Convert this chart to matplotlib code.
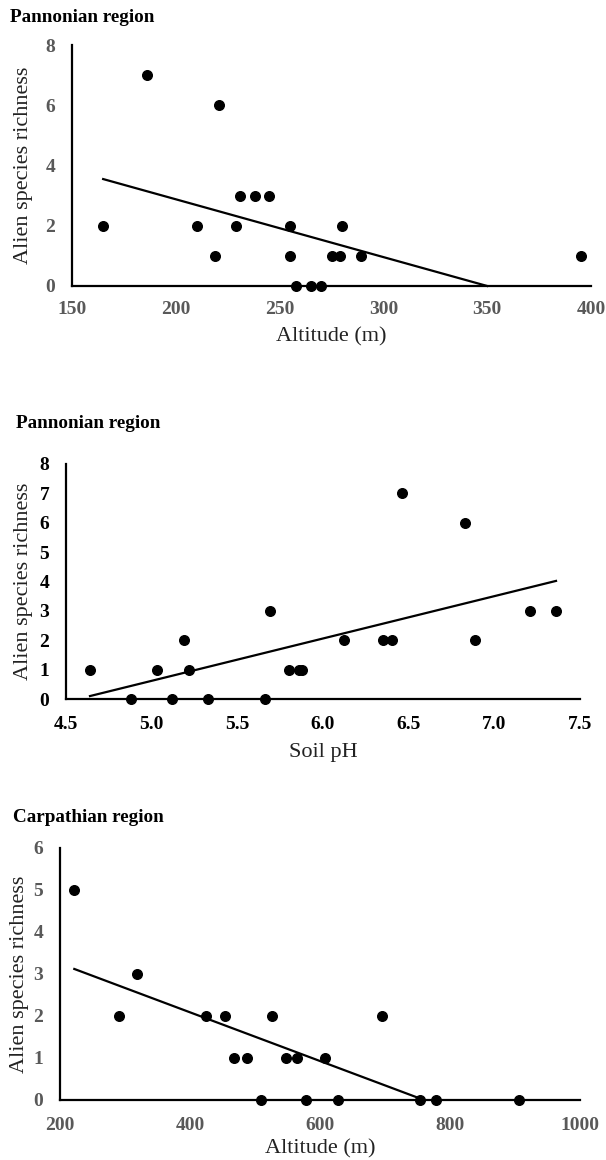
import matplotlib.pyplot as plt
import numpy as np

plt.rcParams['font.family'] = ['Liberation Serif', 'DejaVu Serif']

# panel 1: Pannonian region, altitude
alt_p = [165, 186, 210, 219, 221, 229, 231, 238, 245, 255, 255, 258, 265, 270,
         275, 279, 280, 289, 395]
rich_alt_p = [2, 7, 2, 1, 6, 2, 3, 3, 3, 2, 1, 0, 0, 0, 1, 1, 2, 1, 1]
trend_alt_p_x = [165, 350]
trend_alt_p_y = [3.55, 0]

# panel 2: Pannonian region, soil pH
ph_p = [4.64, 4.88, 5.03, 5.12, 5.19, 5.22, 5.33, 5.66, 5.69, 5.80, 5.86, 5.88,
        6.12, 6.35, 6.40, 6.46, 6.83, 6.89, 7.21, 7.36]
rich_ph_p = [1, 0, 1, 0, 2, 1, 0, 0, 3, 1, 1, 1, 2, 2, 2, 7, 6, 2, 3, 3]
trend_ph_x = [4.64, 7.36]
trend_ph_y = [0.1, 4.02]

# panel 3: Carpathian region, altitude
alt_c = [222, 290, 319, 424, 454, 468, 487, 509, 526, 547, 565, 579, 607, 627,
         695, 754, 778, 906]
rich_alt_c = [5, 2, 3, 2, 2, 1, 1, 0, 2, 1, 1, 0, 1, 0, 2, 0, 0, 0]
trend_alt_c_x = [222, 760]
trend_alt_c_y = [3.12, 0]

W, H = 606, 1160
fig = plt.figure(figsize=(W / 100, H / 100), dpi=100)


def box(l, r, t, b):
    return [l / W, 1 - b / H, (r - l) / W, (b - t) / H]


def panel(px, x, y, tx, ty, xlim, ylim, xticks, yticks, xfmt, tickcol, xpad,
          xlabel, xlabel_y, ylabel_x, title, title_xy):
    l, r, t, b = px
    ax = fig.add_axes(box(l, r, t, b))
    ax.scatter(x, y, s=48, color='black', zorder=5, clip_on=False)
    ax.plot(tx, ty, color='black', lw=1.6, zorder=4, clip_on=False)
    ax.set_xlim(*xlim)
    ax.set_ylim(*ylim)
    ax.set_xticks(xticks)
    ax.set_xticklabels([xfmt.format(v) for v in xticks])
    ax.set_yticks(yticks)
    for s in ['top', 'right']:
        ax.spines[s].set_visible(False)
    for s in ['left', 'bottom']:
        ax.spines[s].set_linewidth(1.6)
        ax.spines[s].set_color('black')
    ax.tick_params(length=0, labelsize=14, colors=tickcol)
    ax.tick_params(axis='y', pad=12)
    ax.tick_params(axis='x', pad=xpad)
    for lab in ax.get_xticklabels() + ax.get_yticklabels():
        lab.set_fontweight('bold')
    ax.set_ylabel('Alien species richness', fontsize=16, color='#222222')
    ax.yaxis.set_label_coords((ylabel_x - l) / (r - l), 0.5)
    ax.set_xlabel(xlabel, fontsize=16, color='#222222', va='center')
    ax.xaxis.set_label_coords(0.5, (b - xlabel_y) / (b - t))
    fig.text(title_xy[0] / W, 1 - title_xy[1] / H, title, fontsize=13.8,
             fontweight='bold', ha='left', va='center')
    return ax


ax1 = panel((72, 591, 45, 286), alt_p, rich_alt_p, trend_alt_p_x, trend_alt_p_y,
            (150, 400), (0, 8), [150, 200, 250, 300, 350, 400], [0, 2, 4, 6, 8],
            '{:d}', '#595959', 11, 'Altitude (m)', 337, 33, 'Pannonian region', (10, 18))

ax2 = panel((66, 580, 464, 699), ph_p, rich_ph_p, trend_ph_x, trend_ph_y,
            (4.5, 7.5), (0, 8), [4.5, 5.0, 5.5, 6.0, 6.5, 7.0, 7.5], list(range(9)),
            '{:.1f}', 'black', 12, 'Soil pH', 753, 33, 'Pannonian region', (16, 423))

ax3 = panel((60, 580, 848, 1100), alt_c, rich_alt_c, trend_alt_c_x, trend_alt_c_y,
            (200, 1000), (0, 6), [200, 400, 600, 800, 1000], list(range(7)),
            '{:d}', '#595959', 12, 'Altitude (m)', 1149, 29, 'Carpathian region', (13, 818))

fig.savefig('out.png', dpi=100)
